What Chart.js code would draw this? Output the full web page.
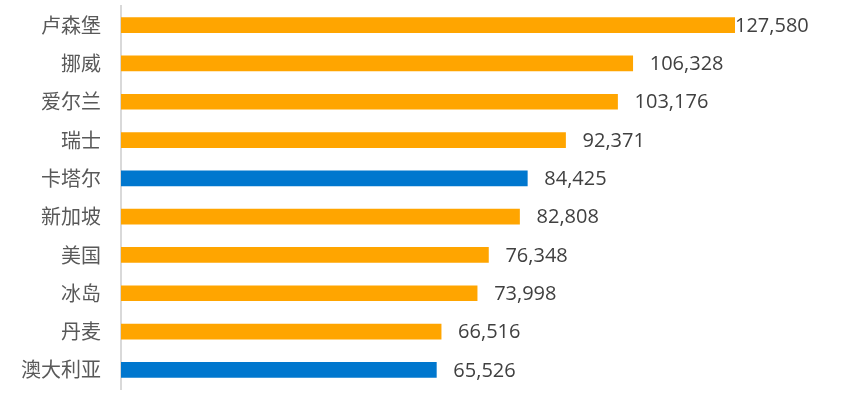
<!DOCTYPE html>
<html>
<head>
<meta charset="utf-8">
<script src="https://cdn.jsdelivr.net/npm/chart.js@4"></script>
<style>
html,body{margin:0;padding:0;background:#fff;}
#wrap{width:865px;height:399px;}
</style>
</head>
<body>
<div id="wrap"><canvas id="c" width="865" height="399"></canvas></div>
<script>
const categories = ["卢森堡","挪威","爱尔兰","瑞士","卡塔尔","新加坡","美国","冰岛","丹麦","澳大利亚"];
const values = [127580,106328,103176,92371,84425,82808,76348,73998,66516,65526];
const highlighted = ["卡塔尔","澳大利亚"];
const orange = "#FFA500";
const blue = "#0077CE";
const barColors = categories.map(c => highlighted.includes(c) ? blue : orange);

const valueLabels = {
  id: 'valueLabels',
  afterDatasetsDraw(chart) {
    const ctx = chart.ctx;
    const meta = chart.getDatasetMeta(0);
    const area = chart.chartArea;
    ctx.save();
    ctx.font = '20px "Open Sans"';
    ctx.fillStyle = '#404040';
    ctx.textBaseline = 'middle';
    ctx.textAlign = 'left';
    meta.data.forEach((bar, i) => {
      const x = Math.min(bar.x + 17, area.right);
      ctx.fillText(values[i].toLocaleString('en-US'), x, bar.y + 1);
    });
    ctx.restore();
  }
};

new Chart(document.getElementById('c'), {
  type: 'bar',
  data: {
    labels: categories,
    datasets: [{
      data: values,
      backgroundColor: barColors,
      borderWidth: 0,
      barThickness: 15
    }]
  },
  options: {
    indexAxis: 'y',
    responsive: false,
    animation: false,
    layout: { padding: { top: 6, bottom: 10, right: 130, left: 0 } },
    plugins: { legend: { display: false }, tooltip: { enabled: false } },
    scales: {
      x: {
        display: false,
        min: 0,
        max: 127580
      },
      y: {
        afterFit(scale) {
          scale.width = 121;
          scale.paddingTop = 0;
          scale.paddingBottom = 0;
        },
        grid: { display: false, drawTicks: false },
        border: { display: true, color: '#d9d9d9', width: 2 },
        ticks: {
          padding: 20,
          color: '#595959',
          font: { family: '"Noto Sans CJK SC"', size: 20 }
        }
      }
    }
  },
  plugins: [valueLabels]
});
</script>
</body>
</html>
